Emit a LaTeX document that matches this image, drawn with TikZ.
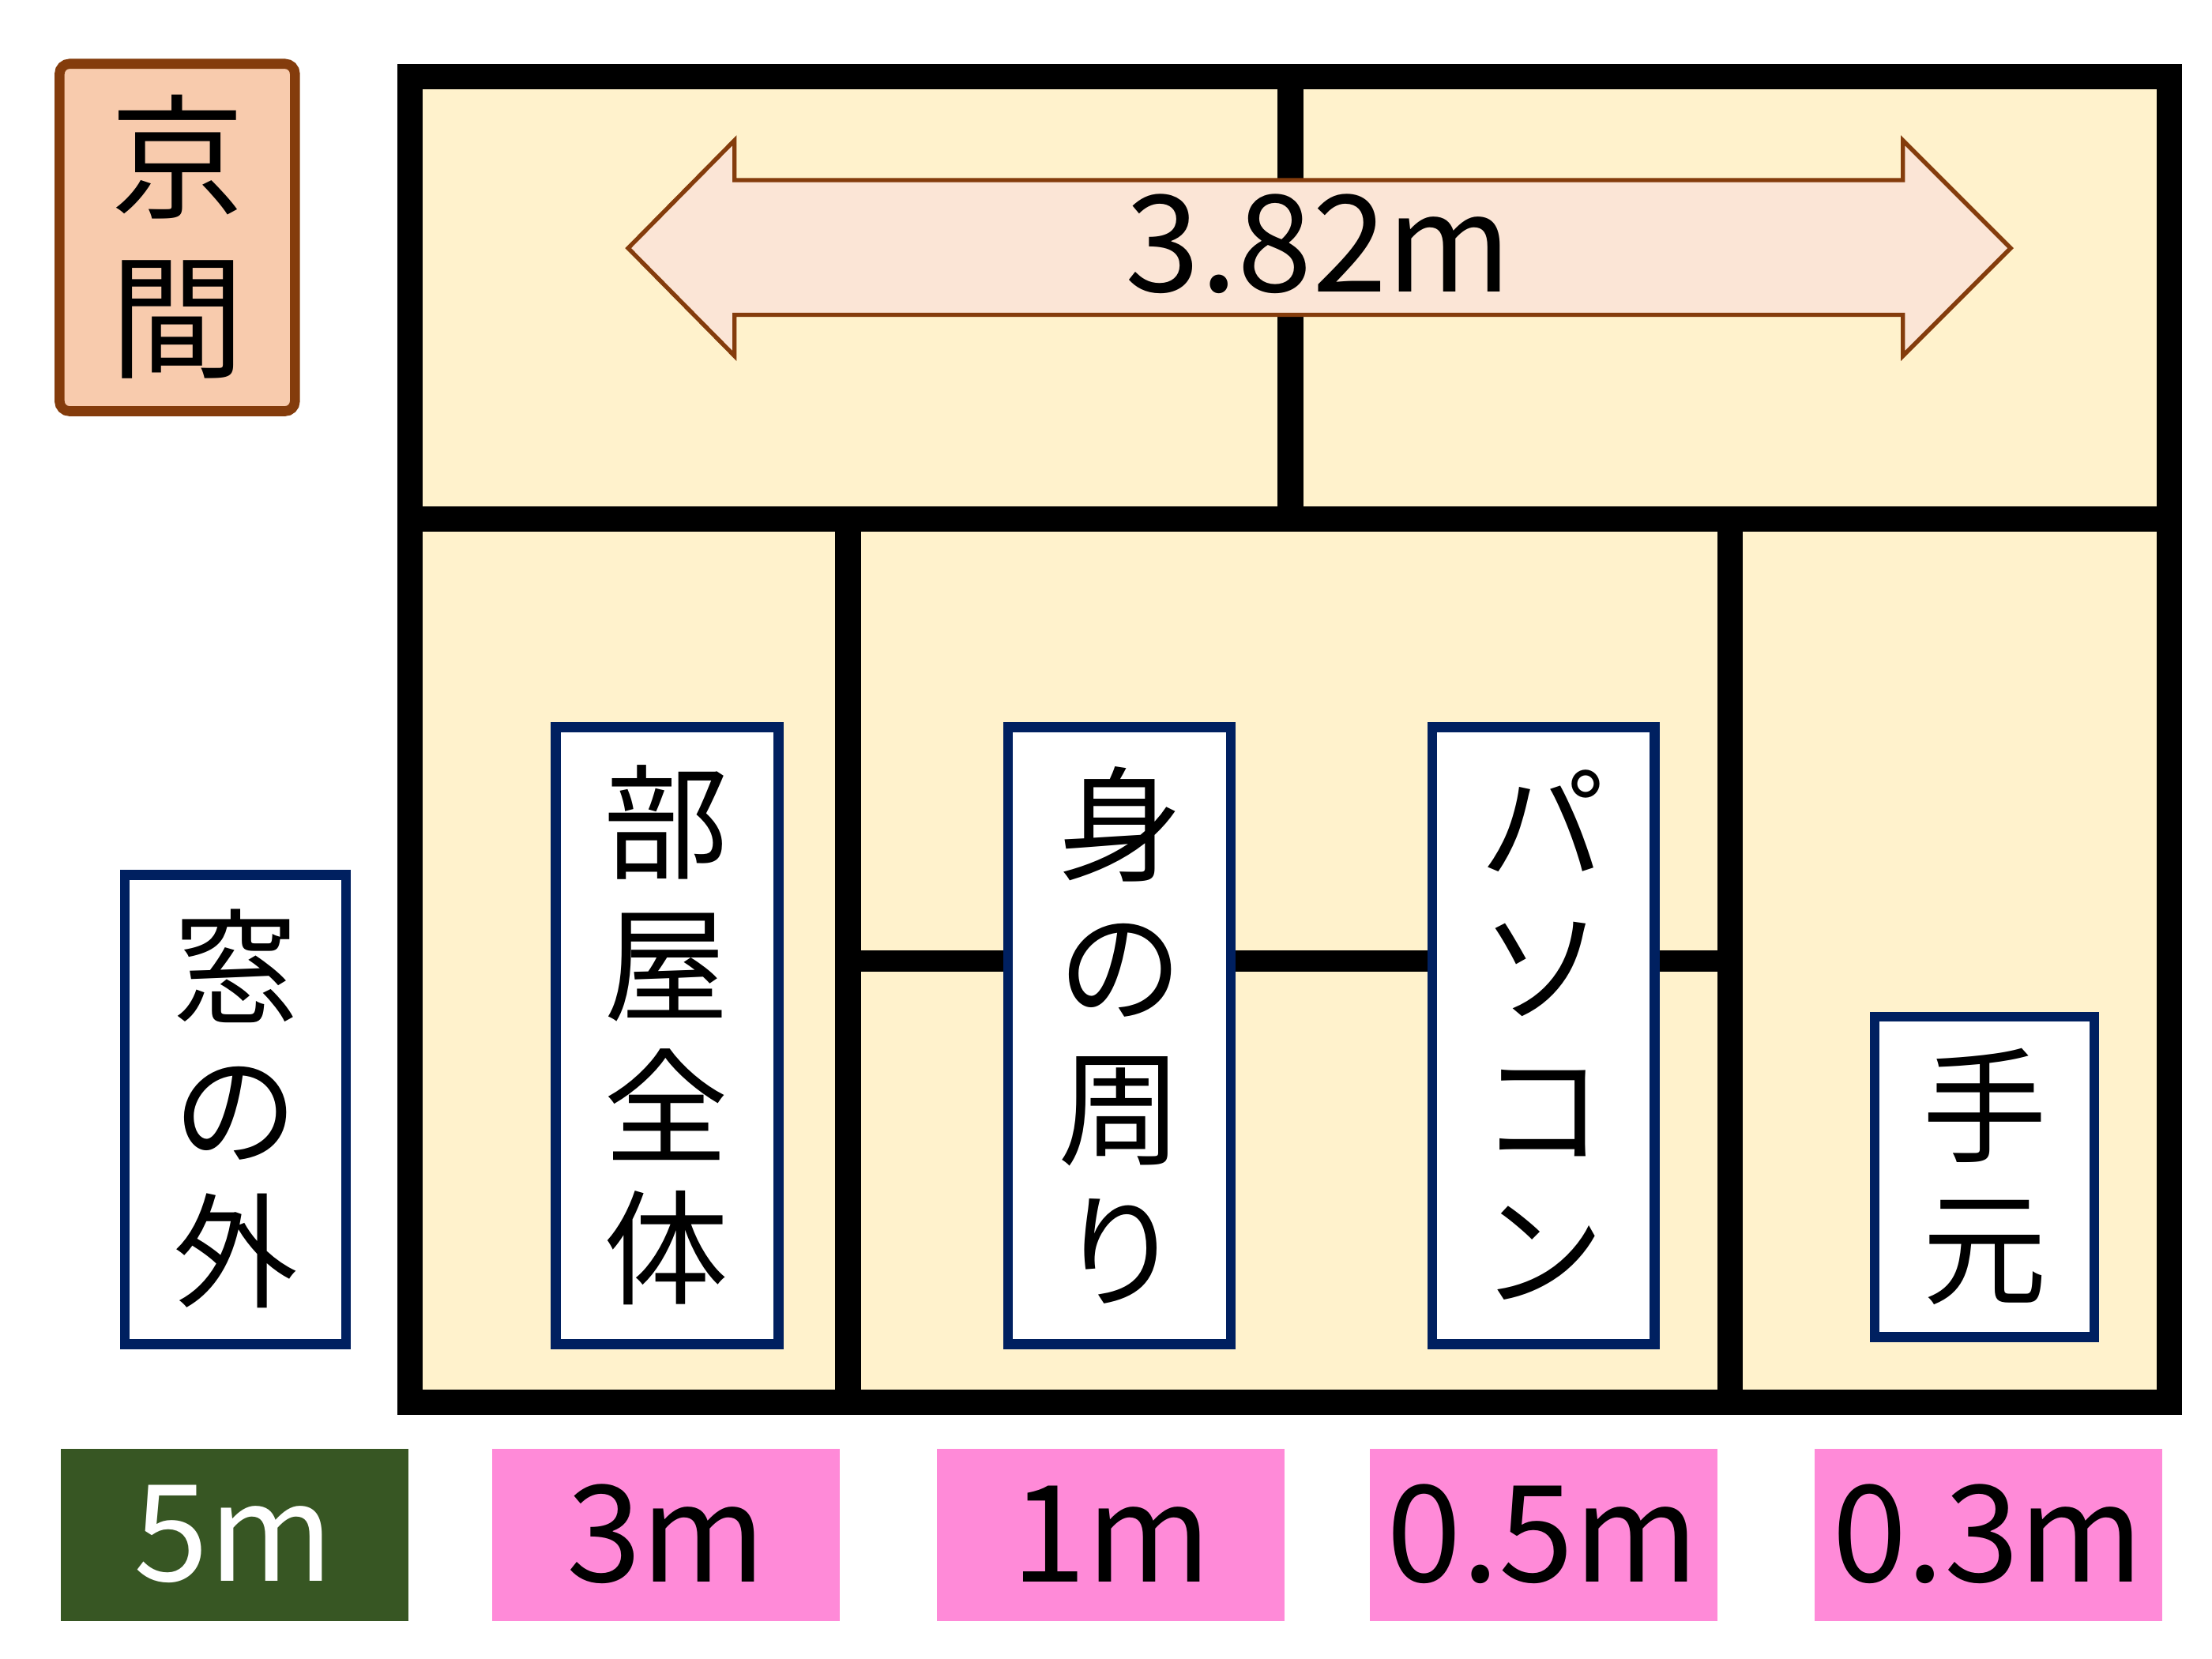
\documentclass[tikz,border=0pt]{standalone}
\usepackage{fontspec}
\setmainfont{Noto Sans CJK JP}
\begin{document}
\begin{tikzpicture}[x=0.01cm,y=-0.01cm,
 wall/.style={line width=0.18cm,draw=black},
 vbox/.style={draw={rgb,255:red,0;green,32;blue,96},line width=0.07cm,fill=white},
 vtxt/.style={align=center,font=\fontsize{25}{28.5}\selectfont,inner sep=0pt},
 dist/.style={font=\fontsize{27}{32}\selectfont}]
\definecolor{cream}{RGB}{255,242,204}
\definecolor{brownb}{RGB}{132,60,12}
\definecolor{pinkk}{RGB}{255,138,216}
\definecolor{dgreen}{RGB}{55,86,35}
\useasboundingbox (0,0) rectangle (1560,1169.5);
\fill[white] (0,0) rectangle (1560,1169.5);
% Kyoma
\draw[brownb,line width=0.07cm,fill={rgb,255:red,248;green,203;blue,173},rounded corners=2] (42,45) rectangle (208,290);
\node[vtxt,font=\fontsize{27}{32}\selectfont] (kyo) at (125,167) {京\\間};
% frame
\fill[cream] (289,54) rectangle (1530,989);
\draw[wall] (289,54) rectangle (1530,366);
\draw[wall] (289,366) rectangle (1530,989);
\draw[wall] (910,54) -- (910,366);
\draw[wall] (598,366) -- (598,989);
\draw[wall] (1220,366) -- (1220,989);
\draw[line width=0.15cm] (598,678) -- (1220,678);
% arrow
\draw[brownb,line width=0.03cm,fill={rgb,255:red,251;green,229;blue,214}]
 (443,175) -- (518,99) -- (518,127) -- (1342,127) -- (1342,99) -- (1418,175) -- (1342,251) -- (1342,222) -- (518,222) -- (518,251) -- cycle;
\node[font=\fontsize{27}{32}\selectfont] (w) at (930,172) {3.82m};
% vertical boxes
\draw[vbox] (88,617) rectangle (244,948);
\node[vtxt] (a) at (166,782) {窓\\の\\外};
\draw[vbox] (392,513) rectangle (549,948);
\node[vtxt] (b) at (470,730) {部\\屋\\全\\体};
\draw[vbox] (711,513) rectangle (868,948);
\node[vtxt] (c) at (790,730) {身\\の\\周\\り};
\draw[vbox] (1010,513) rectangle (1167,948);
\node[vtxt] (d) at (1088,730) {パ\\ソ\\コ\\ン};
\draw[vbox] (1322,717) rectangle (1477,943);
\node[vtxt] (e) at (1400,830) {手\\元};
% distance boxes
\fill[dgreen] (43,1022) rectangle (288,1143);
\node[dist,white] (d5) at (165,1082) {5m};
\fill[pinkk] (347,1022) rectangle (592,1143);
\node[dist] (d3) at (470,1082) {3m};
\fill[pinkk] (661,1022) rectangle (906,1143);
\node[dist] (d1) at (784,1082) {1m};
\fill[pinkk] (966,1022) rectangle (1211,1143);
\node[dist] (d05) at (1088,1082) {0.5m};
\fill[pinkk] (1280,1022) rectangle (1525,1143);
\node[dist] (d03) at (1402,1082) {0.3m};
\end{tikzpicture}
\end{document}
